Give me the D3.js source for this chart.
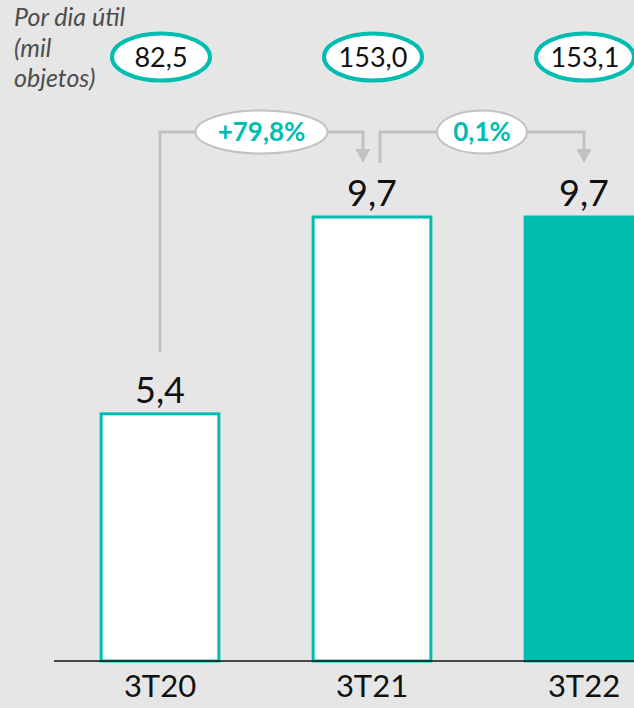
<!DOCTYPE html>
<html>
<head>
<meta charset="utf-8">
<script src="https://cdn.jsdelivr.net/npm/d3@7"></script>
<style>
  body { margin: 0; background: #e6e6e6; overflow: hidden; }
  text { font-family: Lato, "Open Sans", sans-serif; }
</style>
</head>
<body>
<div id="chart"></div>
<script>
// data
var categories = ["3T20", "3T21", "3T22"];
var values = [5.4, 9.7, 9.7];
var valueLabels = ["5,4", "9,7", "9,7"];
var dailyLabels = ["82,5", "153,0", "153,1"];
var growthLabels = ["+79,8%", "0,1%"];
var unitLines = ["Por dia útil", "(mil", "objetos)"];

var teal = "#00bdb1",
    grey = "#c2c2c2";

// chart geometry
var outerWidth = 634,
    outerHeight = 708,
    baseY = 661;

var svg = d3.select("#chart").append("svg")
    .attr("width", outerWidth)
    .attr("height", outerHeight);

svg.append("rect")
    .attr("width", outerWidth)
    .attr("height", outerHeight)
    .attr("fill", "#e6e6e6");

var x = d3.scaleBand()
    .domain(categories)
    .range([54, 690])
    .paddingInner(0.44)
    .paddingOuter(0.22);

var y = d3.scaleLinear()
    .domain([0, 9.7])
    .range([baseY, 217]);

function cx(i) { return x(categories[i]) + x.bandwidth() / 2; }

// bars
svg.selectAll(".bar")
    .data(values)
    .enter().append("rect")
    .attr("class", "bar")
    .attr("x", function (d, i) { return x(categories[i]) + 0.5; })
    .attr("y", function (d) { return y(d); })
    .attr("width", x.bandwidth() - 1)
    .attr("height", function (d) { return baseY - y(d); })
    .attr("fill", function (d, i) { return i == 2 ? teal : "#fff"; })
    .attr("stroke", teal)
    .attr("stroke-width", 3);

// value labels
svg.selectAll(".val")
    .data(values)
    .enter().append("text")
    .attr("class", "val")
    .attr("x", function (d, i) { return cx(i); })
    .attr("y", function (d) { return y(d) - 11; })
    .attr("text-anchor", "middle")
    .attr("font-size", 36)
    .attr("fill", "#111")
    .text(function (d, i) { return valueLabels[i]; });

// axis line + category labels
var axis = d3.axisBottom(x).tickSize(0).tickPadding(14);
var ax = svg.append("g")
    .attr("transform", "translate(0," + baseY + ")")
    .call(axis);
ax.select(".domain").remove();
ax.selectAll("text")
    .attr("font-size", 31)
    .attr("fill", "#111")
    .attr("dy", "0.72em")
    .style("font-family", "Lato, sans-serif");
svg.append("line")
    .attr("x1", 54).attr("x2", outerWidth)
    .attr("y1", baseY).attr("y2", baseY)
    .attr("stroke", "#111")
    .attr("stroke-width", 1.5);

// unit note
svg.append("text")
    .attr("x", 14)
    .attr("y", 26)
    .attr("font-size", 25)
    .attr("font-style", "italic")
    .attr("fill", "#4d4d4d")
    .selectAll("tspan")
    .data(unitLines)
    .enter().append("tspan")
    .attr("x", 14)
    .attr("dy", function (d, i) { return i == 0 ? 0 : 30.5; })
    .text(function (d) { return d; });

// daily ovals
var ovals = svg.selectAll(".oval")
    .data(dailyLabels)
    .enter().append("g")
    .attr("class", "oval")
    .attr("transform", function (d, i) { return "translate(" + (cx(i) + 1) + ",57)"; });
ovals.append("ellipse")
    .attr("rx", 49)
    .attr("ry", 23.5)
    .attr("fill", "#fff")
    .attr("stroke", teal)
    .attr("stroke-width", 4);
ovals.append("text")
    .attr("text-anchor", "middle")
    .attr("dy", "0.36em")
    .attr("font-size", 27)
    .attr("fill", "#111")
    .text(function (d) { return d; });

// growth connectors
var lineY = 132, tipY = 163;
var connectors = [
    {from: cx(0), fromY: 352, to: cx(1) - 9, label: growthLabels[0], rx: 66},
    {from: cx(1) + 8, fromY: 163, to: cx(2), label: growthLabels[1], rx: 45}
];

connectors.forEach(function (c) {
    svg.append("path")
        .attr("d", "M" + c.from + "," + c.fromY + "V" + lineY + "H" + c.to + "V" + (tipY - 12))
        .attr("fill", "none")
        .attr("stroke", grey)
        .attr("stroke-width", 3);
    svg.append("path")
        .attr("d", "M" + (c.to - 7.5) + "," + (tipY - 14) + "L" + (c.to + 7.5) + "," + (tipY - 14) + "L" + c.to + "," + tipY + "Z")
        .attr("fill", grey);
    var mid = (c.from + c.to) / 2;
    svg.append("ellipse")
        .attr("cx", mid)
        .attr("cy", lineY)
        .attr("rx", c.rx)
        .attr("ry", 21.5)
        .attr("fill", "#fff")
        .attr("stroke", grey)
        .attr("stroke-width", 2);
    svg.append("text")
        .attr("x", mid)
        .attr("y", lineY)
        .attr("dy", "0.36em")
        .attr("text-anchor", "middle")
        .attr("font-size", 26)
        .attr("font-weight", "bold")
        .attr("fill", teal)
        .text(c.label);
});
</script>
</body>
</html>
